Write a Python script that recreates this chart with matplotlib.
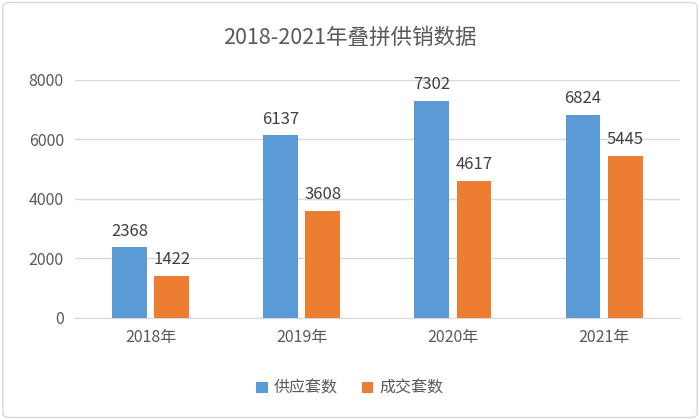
import matplotlib.pyplot as plt
import numpy as np
from matplotlib.patches import FancyBboxPatch

plt.rcParams["font.family"] = ["Noto Sans CJK SC", "DejaVu Sans"]

YEARS = ["2018年", "2019年", "2020年", "2021年"]
SUPPLY = [2368, 6137, 7302, 6824]
DEALS = [1422, 3608, 4617, 5445]
SERIES_NAMES = ["供应套数", "成交套数"]
Y_TICKS = [0, 2000, 4000, 6000, 8000]

fig = plt.figure(figsize=(7, 4.2), dpi=100)
fig.patches.append(FancyBboxPatch((0.004, 0.006), 0.992, 0.988, boxstyle="round,pad=0,rounding_size=0.01",
                                  transform=fig.transFigure, fill=False, edgecolor="#d9d9d9", linewidth=1))
ax = fig.add_axes([0.107, 0.243, 0.864, 0.567])

x = np.arange(len(YEARS))
w = 0.23
gap = 0.05
b1 = ax.bar(x - (w + gap) / 2, SUPPLY, w, color="#5b9bd5", label=SERIES_NAMES[0], zorder=3)
b2 = ax.bar(x + (w + gap) / 2, DEALS, w, color="#ed7d31", label=SERIES_NAMES[1], zorder=3)
for bars in (b1, b2):
    for r in bars:
        ax.text(r.get_x() + r.get_width() / 2, r.get_height() + 250, f"{int(r.get_height())}",
                ha="center", va="bottom", fontsize=12, color="#404040")

ax.set_xlim(-0.5, len(YEARS) - 0.5)
ax.set_ylim(0, 8000)
ax.set_yticks(Y_TICKS)
ax.set_xticks(x, YEARS)
ax.tick_params(length=0, labelsize=11.5, colors="#595959", pad=8)
ax.grid(axis="y", color="#d9d9d9", linewidth=1, zorder=0)
for s in ["top", "right", "left"]:
    ax.spines[s].set_visible(False)
ax.spines["bottom"].set_color("#d9d9d9")

fig.text(0.5, 0.91, "2018-2021年叠拼供销数据", ha="center", va="center", fontsize=15.5, color="#595959")
fig.legend(loc="center", bbox_to_anchor=(0.5, 0.075), ncol=2, frameon=False, fontsize=11.5,
           handlelength=0.7, handleheight=0.7, columnspacing=1.5, handletextpad=0.4, labelcolor="#595959")

fig.savefig("out.png", dpi=100)
